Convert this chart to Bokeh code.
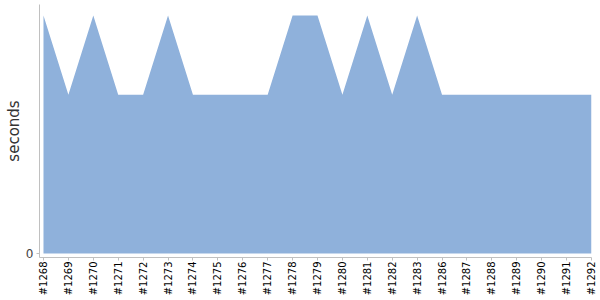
import math
from bokeh.plotting import figure
from bokeh.models import FixedTicker, Range1d
from bokeh.embed import file_html
from bokeh.resources import INLINE

builds = ["#1268", "#1269", "#1270", "#1271", "#1272", "#1273", "#1274", "#1275",
          "#1276", "#1277", "#1278", "#1279", "#1280", "#1281", "#1282", "#1283",
          "#1286", "#1287", "#1288", "#1289", "#1290", "#1291", "#1292"]
seconds = [3, 2, 3, 2, 2, 3, 2, 2, 2, 2, 3, 3, 2, 3, 2, 3, 2, 2, 2, 2, 2, 2, 2]
y_ticks = [0]

xs = list(range(len(builds)))

p = figure(width=600, height=300, output_backend="svg", toolbar_location=None,
           x_range=Range1d(-0.16, len(builds) - 1),
           y_range=Range1d(-0.0504, 3.139),
           min_border_left=39, min_border_right=9, min_border_top=4, min_border_bottom=43)
p.outline_line_color = None
p.background_fill_color = "white"
p.border_fill_color = "white"
p.xgrid.grid_line_color = None
p.ygrid.grid_line_color = None

p.varea(x=xs, y1=[0] * len(xs), y2=seconds, fill_color="#8FB1DB", fill_alpha=1.0)

xa = p.xaxis[0]
xa.ticker = FixedTicker(ticks=xs)
xa.major_label_overrides = {i: b for i, b in enumerate(builds)}
xa.major_label_orientation = math.pi / 2
xa.major_label_text_font = "DejaVu Sans"
xa.major_label_text_font_size = "10px"
xa.major_label_text_color = "#000000"
xa.major_label_standoff = 1
xa.major_tick_in = 0
xa.major_tick_out = 3
xa.minor_tick_line_color = None
xa.axis_line_color = "#C0C0C0"
xa.major_tick_line_color = "#C0C0C0"

ya = p.yaxis[0]
ya.ticker = FixedTicker(ticks=y_ticks)
ya.major_label_text_font = "DejaVu Sans"
ya.major_label_text_font_size = "12px"
ya.major_label_text_color = "#444444"
ya.major_label_standoff = 3
ya.major_tick_in = 0
ya.major_tick_out = 3
ya.minor_tick_line_color = None
ya.axis_line_color = "#C0C0C0"
ya.major_tick_line_color = "#C0C0C0"
ya.axis_label = "seconds"
ya.axis_label_text_font = "DejaVu Sans"
ya.axis_label_text_font_size = "15px"
ya.axis_label_text_font_style = "normal"
ya.axis_label_text_color = "#333333"
ya.axis_label_standoff = 0

open("out.html", "w").write(file_html(p, INLINE))
